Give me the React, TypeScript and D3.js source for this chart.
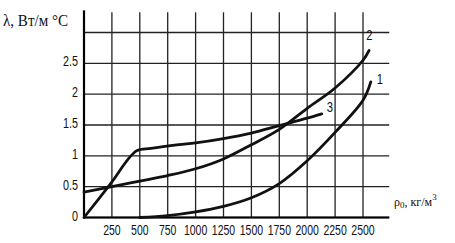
import * as d3 from "d3";

const WIDTH = 455;
const HEIGHT = 243;

// axis ticks
const X_TICKS = [250, 500, 750, 1000, 1250, 1500, 1750, 2000, 2250, 2500];
const Y_TICKS = [0, 0.5, 1, 1.5, 2, 2.5, 3];
const Y_LABELS = ["0", "0.5", "1", "1.5", "2", "2.5"];

// curve 1
const c1X = [500, 750, 1000, 1250, 1500, 1750, 2000, 2250, 2500, 2570];
const c1Y = [0, 0.03, 0.09, 0.18, 0.32, 0.55, 0.92, 1.38, 1.9, 2.2];
// curve 2
const c2X = [0, 250, 500, 750, 1000, 1250, 1500, 1750, 2000, 2250, 2500, 2555];
const c2Y = [0.41, 0.5, 0.59, 0.68, 0.79, 0.95, 1.18, 1.43, 1.77, 2.1, 2.55, 2.71];
// curve 3
const c3X = [0, 235, 470, 600, 850, 1000, 1250, 1500, 1750, 2000, 2130];
const c3Y = [0, 0.54, 1.08, 1.12, 1.18, 1.21, 1.28, 1.37, 1.49, 1.61, 1.68];

const CURVES = [
  { id: "1", xs: c1X, ys: c1Y, lx: 6, ly: 2 },
  { id: "2", xs: c2X, ys: c2Y, lx: -3, ly: -10 },
  { id: "3", xs: c3X, ys: c3Y, lx: 5, ly: -2 },
];

const x = d3.scaleLinear().domain([0, 2500]).range([84, 363]);
const y = d3.scaleLinear().domain([0, 3]).range([217.5, 32.5]);

const line = d3
  .line<[number, number]>()
  .x((d) => x(d[0]))
  .y((d) => y(d[1]))
  .curve(d3.curveCatmullRom.alpha(0.5));

const NUM_FONT = "'Liberation Sans', Arial, sans-serif";
const SERIF = "'Liberation Serif', 'Times New Roman', serif";

export default function App() {
  const xEnd = x(2735);
  const yTop = y(3.36);

  return (
    <svg
      width={WIDTH}
      height={HEIGHT}
      style={{ position: "absolute", left: 0, top: 0, background: "#fff" }}>
      {/* grid */}
      {Y_TICKS.map((t) => (
        <line key={"h" + t} x1={x(0)} x2={xEnd} y1={y(t)} y2={y(t)} stroke="#222" strokeWidth={1.3} />
      ))}
      {X_TICKS.map((t) => (
        <line key={"v" + t} x1={x(t)} x2={x(t)} y1={yTop + 2} y2={y(0)} stroke="#222" strokeWidth={1.3} />
      ))}

      {/* axes */}
      <line x1={x(0)} x2={x(0)} y1={yTop} y2={y(0) + 1} stroke="#000" strokeWidth={2.2} />
      <line x1={x(0)} x2={xEnd} y1={y(0)} y2={y(0)} stroke="#000" strokeWidth={2.2} />

      {/* curves */}
      {CURVES.map((c) => {
        const pts = c.xs.map((v, i) => [v, c.ys[i]] as [number, number]);
        const last = pts[pts.length - 1];
        return (
          <g key={c.id}>
            <path d={line(pts) ?? ""} fill="none" stroke="#111" strokeWidth={2.8} strokeLinecap="round" />
            <text
              transform={`translate(${x(last[0]) + c.lx},${y(last[1]) + c.ly}) scale(0.8,1)`}
              fontFamily={NUM_FONT}
              fontSize={14}
              fill="#111">
              {c.id}
            </text>
          </g>
        );
      })}

      {/* y tick labels */}
      {Y_LABELS.map((lab, i) => (
        <text
          key={lab}
          transform={`translate(78,${y(Y_TICKS[i]) + 3}) scale(0.72,1)`}
          textAnchor="end"
          fontFamily={NUM_FONT}
          fontSize={15}
          fill="#111">
          {lab}
        </text>
      ))}

      {/* x tick labels */}
      {X_TICKS.map((t) => (
        <text
          key={t}
          transform={`translate(${x(t)},235) scale(0.7,1)`}
          textAnchor="middle"
          fontFamily={NUM_FONT}
          fontSize={15}
          fill="#111">
          {t}
        </text>
      ))}

      {/* axis titles */}
      <text
        x={3}
        y={26}
        fontFamily={SERIF}
        fontSize={16}
        textLength={65}
        lengthAdjust="spacingAndGlyphs"
        fill="#111">
        λ, Вт/м °С
      </text>
      <text x={394} y={206} fontFamily={SERIF} fontSize={12} fill="#111">
        ρ<tspan fontSize={9} dy={2}>0</tspan>
        <tspan dy={-2}>, кг/м</tspan>
        <tspan fontSize={9} dy={-6}>3</tspan>
      </text>
    </svg>
  );
}
